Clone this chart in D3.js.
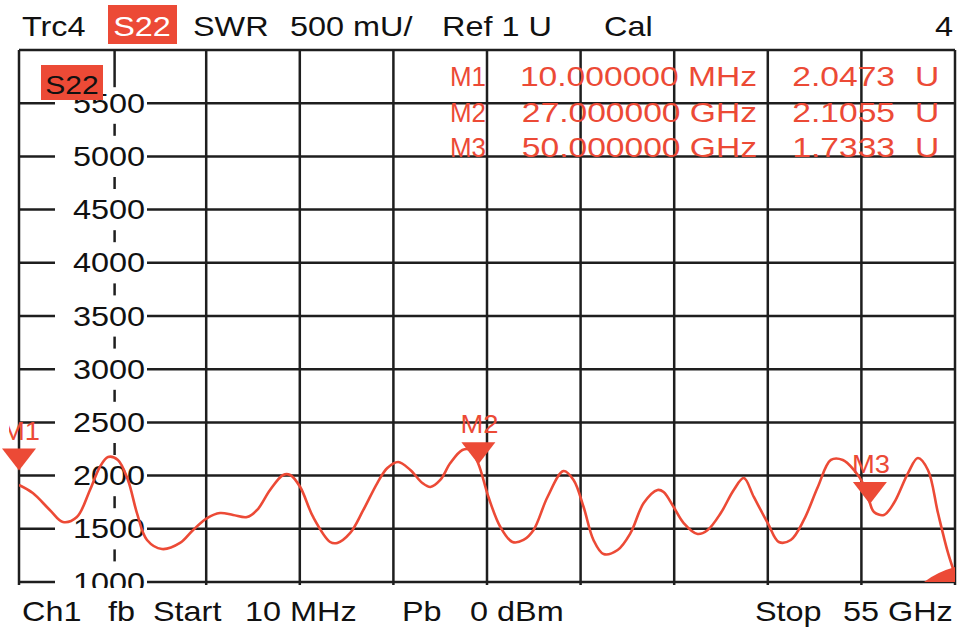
<!DOCTYPE html>
<html>
<head>
<meta charset="utf-8">
<script src="https://cdn.jsdelivr.net/npm/d3@7"></script>
<style>
  html, body { margin: 0; padding: 0; background: #fff; }
  svg { display: block; }
  text { font-family: "Liberation Sans", Arial, sans-serif; }
</style>
</head>
<body>
<script>
// ---- Data ----
const freqGHz = [0.01, 0.82, 1.82, 2.59, 3.41, 4.18, 4.76, 5.24, 5.82, 6.41, 6.94, 7.53, 8.41, 9.47,
  10.24, 11.06, 11.82, 12.59, 13.41, 14.0, 14.76, 15.53, 15.94, 16.53, 17.29, 18.29, 18.71, 19.47,
  20.24, 21.06, 21.65, 22.29, 23.0, 23.71, 24.18, 24.76, 25.35, 26.06, 26.53, 27.0, 27.59, 28.29,
  29.0, 29.65, 30.24, 31.06, 32.0, 32.59, 33.18, 33.76, 34.35, 35.18, 35.94, 36.71, 37.53, 37.88,
  38.47, 39.06, 39.88, 40.47, 41.24, 42.0, 42.59, 43.18, 44.0, 44.65, 45.35, 46.12, 46.94, 47.71,
  48.41, 49.06, 49.65, 50.0, 50.24, 50.82, 51.41, 52.24, 52.82, 53.41, 54.0, 54.59, 55.0];
const swrValues = [1912, 1836, 1677, 1564, 1611, 1865, 2081, 2175, 2147, 1959, 1648, 1395, 1310, 1367,
  1489, 1601, 1648, 1630, 1611, 1677, 1865, 2006, 2006, 1893, 1611, 1376, 1367, 1461,
  1677, 1930, 2071, 2128, 2053, 1930, 1893, 1959, 2118, 2241, 2241, 2109, 1799, 1517,
  1376, 1395, 1489, 1799, 2043, 1959, 1705, 1395, 1263, 1301, 1461, 1742, 1865, 1846,
  1705, 1554, 1451, 1489, 1648, 1865, 1977, 1799, 1554, 1376, 1395, 1583, 1893, 2147,
  2147, 2053, 1912, 1742, 1658, 1630, 1742, 2024, 2165, 2053, 1648, 1273, 1070];

const yTicks = [1000, 1500, 2000, 2500, 3000, 3500, 4000, 4500, 5000, 5500];
const markerNames = ["M1", "M2", "M3"];
const markerFreqGHz = [0.01, 27, 50];
const markerValues = [2047.3, 2105.5, 1733.3];
const markerFreqText = ["10.000000 MHz", "27.000000 GHz", "50.000000 GHz"];
const markerValueText = ["2.0473", "2.1055", "1.7333"];

const headerItems = [["Trc4", 22], ["SWR", 193], ["500 mU/", 290], ["Ref 1 U", 442], ["Cal", 604]];
const footerItems = [["Ch1", 22], ["fb", 108], ["Start", 153], ["10 MHz", 245], ["Pb", 402], ["0 dBm", 470], ["Stop", 755], ["55 GHz", 843]];

// ---- Setup ----
const W = 978, H = 631;
const RED = "#ec4a36";
const GRID = "#1e1e1e";
const SX = 1.2;

const svg = d3.select("body").append("svg").attr("width", W).attr("height", H);

const x = d3.scaleLinear().domain([0.01, 55]).range([19, 955]);
const y = d3.scaleLinear().domain([1000, 6000]).range([582, 50]);

function stext(parent, str, px, py, size, anchor, fill) {
  const g = parent.append("g").attr("transform", `translate(${px},${py}) scale(${SX},1)`);
  return g.append("text").attr("x", 0).attr("y", 0)
    .attr("font-size", size).attr("text-anchor", anchor || "start")
    .attr("fill", fill || "#111").text(str);
}

// ---- Grid ----
const grid = svg.append("g");
const hLines = yTicks.concat([6000]);
grid.selectAll("line.h").data(hLines).join("line")
  .attr("x1", x.range()[0]).attr("x2", x.range()[1])
  .attr("y1", d => y(d)).attr("y2", d => y(d))
  .attr("stroke", GRID).attr("stroke-width", 2.5);

const xDiv = d3.range(11).map(i => x.domain()[0] + i * (x.domain()[1] - x.domain()[0]) / 10);
grid.selectAll("line.v").data(xDiv.filter((d, i) => i !== 1)).join("line")
  .attr("x1", d => x(d)).attr("x2", d => x(d))
  .attr("y1", y(6000)).attr("y2", y(1000) + 3)
  .attr("stroke", GRID).attr("stroke-width", 2.5);

// label masks
grid.selectAll("rect.mask").data(yTicks).join("rect")
  .attr("x", 55).attr("width", 92)
  .attr("y", d => y(d) - 13).attr("height", 26)
  .attr("fill", "#fff");

// dashed axis line (column 1)
const axX = x(xDiv[1]) + 2;
grid.append("line").attr("x1", axX).attr("x2", axX)
  .attr("y1", y(6000)).attr("y2", y(5500) - 16)
  .attr("stroke", GRID).attr("stroke-width", 2.5);
grid.selectAll("line.dash").data(yTicks.filter(d => d < 5500)).join("line")
  .attr("x1", axX).attr("x2", axX)
  .attr("y1", d => y(d + 250) - 6).attr("y2", d => y(d + 250) + 6)
  .attr("stroke", GRID).attr("stroke-width", 2.5);

// y labels
yTicks.forEach(t => stext(svg, String(t), 145, y(t) + 9.5, 27, "end"));

// footer mask
svg.append("rect").attr("x", 0).attr("y", 588).attr("width", W).attr("height", H - 588).attr("fill", "#fff");

// ---- Trace ----
svg.append("clipPath").attr("id", "plotclip").append("rect")
  .attr("x", x.range()[0]).attr("y", y(6000)).attr("width", x.range()[1] - x.range()[0]).attr("height", y(1000) - y(6000));

const line = d3.line().x(d => x(d[0])).y(d => y(d[1])).curve(d3.curveCatmullRom.alpha(0.5));
svg.append("path")
  .datum(freqGHz.map((f, i) => [f, swrValues[i]]))
  .attr("d", line)
  .attr("fill", "none").attr("stroke", RED).attr("stroke-width", 2.6)
  .attr("stroke-linejoin", "round")
  .attr("clip-path", "url(#plotclip)");

// out-of-range indicator at bottom right
svg.append("path")
  .attr("d", `M${x(55) - 31},${y(1000)} L${x(55)},${y(1000)} L${x(55)},${y(1000) - 15} Q${x(55) - 18},${y(1000) - 10} ${x(55) - 31},${y(1000)} Z`)
  .attr("fill", RED);

// ---- Markers ----
svg.append("clipPath").attr("id", "mlabclip").append("rect")
  .attr("x", 9).attr("y", 0).attr("width", W).attr("height", H);
markerNames.forEach((m, i) => {
  const mx = x(markerFreqGHz[i]), my = y(markerValues[i]);
  svg.append("path")
    .attr("d", `M${mx - 17},${my - 22} L${mx + 17},${my - 22} L${mx},${my} Z`)
    .attr("fill", RED);
  svg.append("text")
    .attr("x", i === 0 ? mx + 2 : mx + 1).attr("y", my - 31)
    .attr("text-anchor", "middle").attr("font-size", 26)
    .attr("textLength", 38).attr("lengthAdjust", "spacingAndGlyphs")
    .attr("fill", RED).attr("clip-path", "url(#mlabclip)")
    .text(m);
});

// ---- Marker table ----
const rowY = [86, 122, 157];
markerNames.forEach((m, i) => {
  svg.append("text").attr("x", 450).attr("y", rowY[i])
    .attr("font-size", 28).attr("fill", RED)
    .attr("textLength", 36).attr("lengthAdjust", "spacingAndGlyphs").text(m);
  stext(svg, markerFreqText[i], 757, rowY[i], 28, "end", RED);
  stext(svg, markerValueText[i], 895, rowY[i], 28, "end", RED);
  stext(svg, "U", 915, rowY[i], 28, "start", RED);
});

// ---- Trace label box in plot ----
svg.append("rect").attr("x", 41).attr("y", 65).attr("width", 62).attr("height", 35).attr("fill", RED);
stext(svg, "S22", 72, 94, 25, "middle", "#111");

// ---- Header ----
headerItems.forEach(([s, px]) => stext(svg, s, px, 35.5, 27, "start", "#111"));
svg.append("rect").attr("x", 108).attr("y", 5).attr("width", 69).attr("height", 39).attr("fill", RED);
stext(svg, "S22", 142, 35.5, 27, "middle", "#fff");
stext(svg, "4", 953, 35.5, 27, "end", "#111");

// ---- Footer ----
footerItems.forEach(([s, px]) => stext(svg, s, px, 621, 27, "start", "#111"));
</script>
</body>
</html>
